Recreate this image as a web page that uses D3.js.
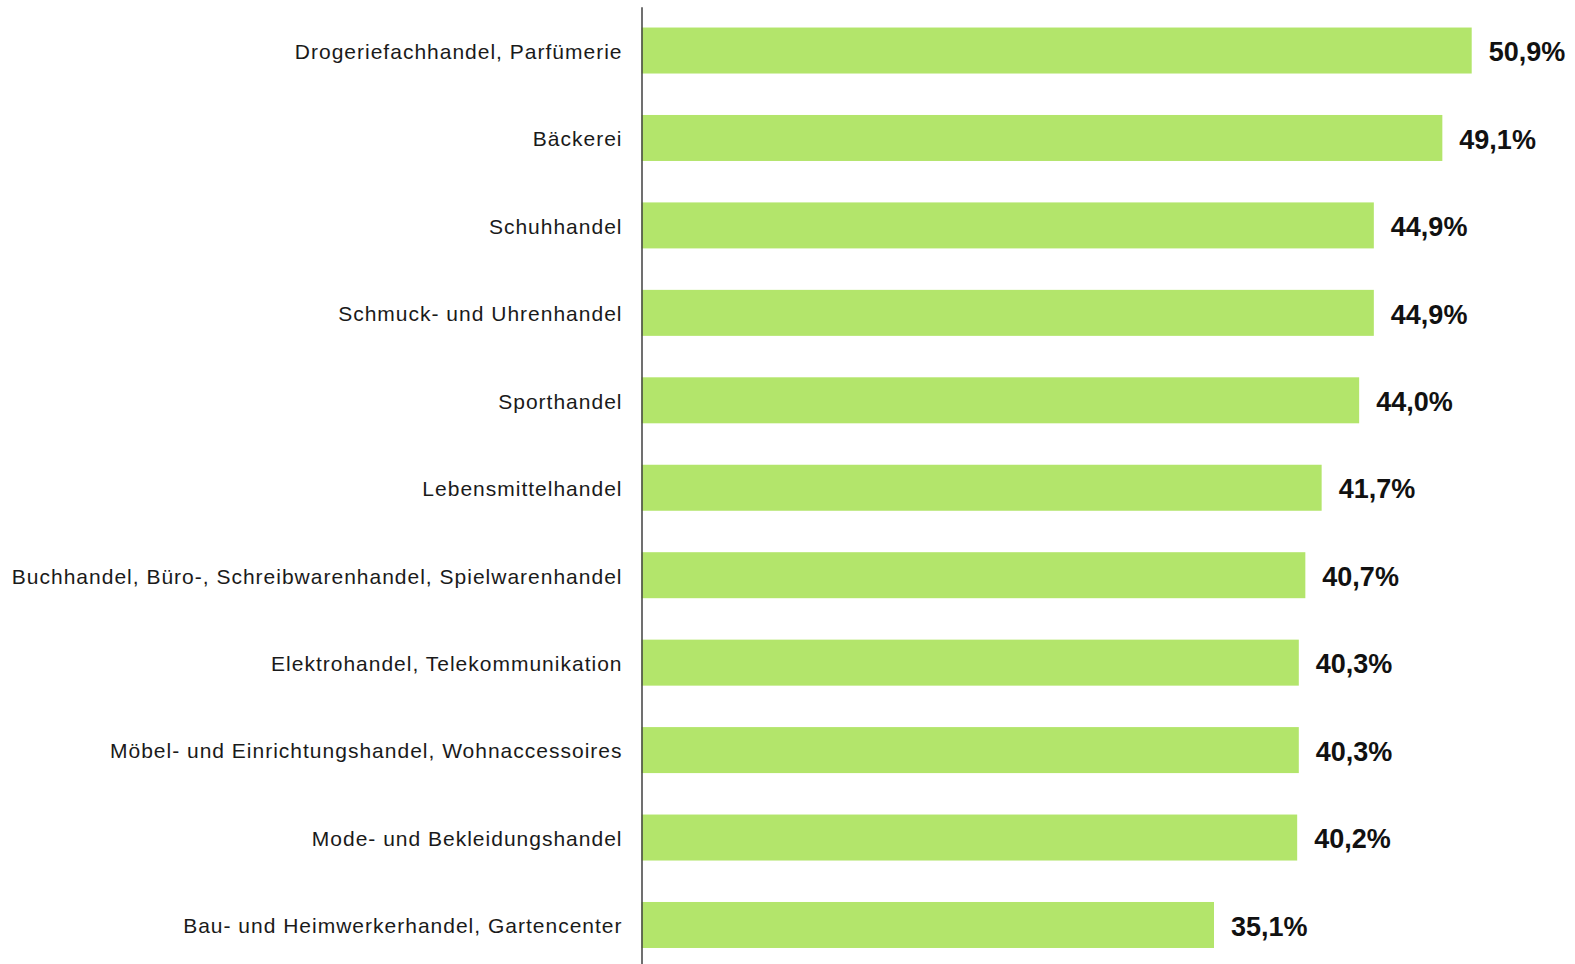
<!DOCTYPE html>
<html>
<head>
<meta charset="utf-8">
<script src="https://cdn.jsdelivr.net/npm/d3@7"></script>
<style>
  body { margin: 0; background: #fff; }
  svg { display: block; font-family: "Liberation Sans", Arial, sans-serif; }
</style>
</head>
<body>
<div id="chart"></div>
<script>
// branches, top to bottom
var categories = [
    "Drogeriefachhandel, Parfümerie",
    "Bäckerei",
    "Schuhhandel",
    "Schmuck- und Uhrenhandel",
    "Sporthandel",
    "Lebensmittelhandel",
    "Buchhandel, Büro-, Schreibwarenhandel, Spielwarenhandel",
    "Elektrohandel, Telekommunikation",
    "Möbel- und Einrichtungshandel, Wohnaccessoires",
    "Mode- und Bekleidungshandel",
    "Bau- und Heimwerkerhandel, Gartencenter"
];
var values = [50.9, 49.1, 44.9, 44.9, 44.0, 41.7, 40.7, 40.3, 40.3, 40.2, 35.1];

var width = 1575;
var height = 964;
var axisX = 641.5;

var de = d3.formatLocale({ decimal: ",", thousands: ".", grouping: [3], currency: ["", " €"] });
var fmt = de.format(".1f");

var svg = d3.select("#chart")
    .append("svg")
    .attr("width", width)
    .attr("height", height);

var x = d3.scaleLinear()
    .domain([0, 50.9])
    .range([axisX, 1471.7]);

var y = d3.scaleBand()
    .domain(categories)
    .range([6.8, 968.7])
    .paddingInner(0.474)
    .paddingOuter(0.237);

var data = categories.map(function(c, i){
    return { name: c, value: values[i] };
});

svg.selectAll("rect.bar")
    .data(data)
    .enter()
    .append("rect")
    .attr("class", "bar")
    .attr("x", x(0))
    .attr("y", function(d){ return y(d.name); })
    .attr("width", function(d){ return x(d.value) - x(0); })
    .attr("height", y.bandwidth())
    .style("fill", "#b3e56b");

svg.selectAll("text.val")
    .data(data)
    .enter()
    .append("text")
    .attr("class", "val")
    .attr("x", function(d){ return x(d.value) + 17; })
    .attr("y", function(d){ return y(d.name) + y.bandwidth() / 2 + 1; })
    .attr("dy", "0.36em")
    .style("font-size", "27px")
    .style("font-weight", "bold")
    .style("fill", "#111")
    .text(function(d){ return fmt(d.value) + "%"; });

var axis = svg.append("g")
    .attr("transform", "translate(" + axisX + ",0)")
    .call(d3.axisLeft(y).tickSize(0).tickPadding(19));

axis.select(".domain")
    .attr("stroke", "#404040")
    .attr("stroke-width", 1.5);

axis.selectAll(".tick text")
    .attr("font-family", null)
    .attr("font-size", null)
    .attr("dy", "0.4em")
    .style("font-size", "21px")
    .style("letter-spacing", "1px")
    .style("fill", "#1a1a1a");
</script>
</body>
</html>
